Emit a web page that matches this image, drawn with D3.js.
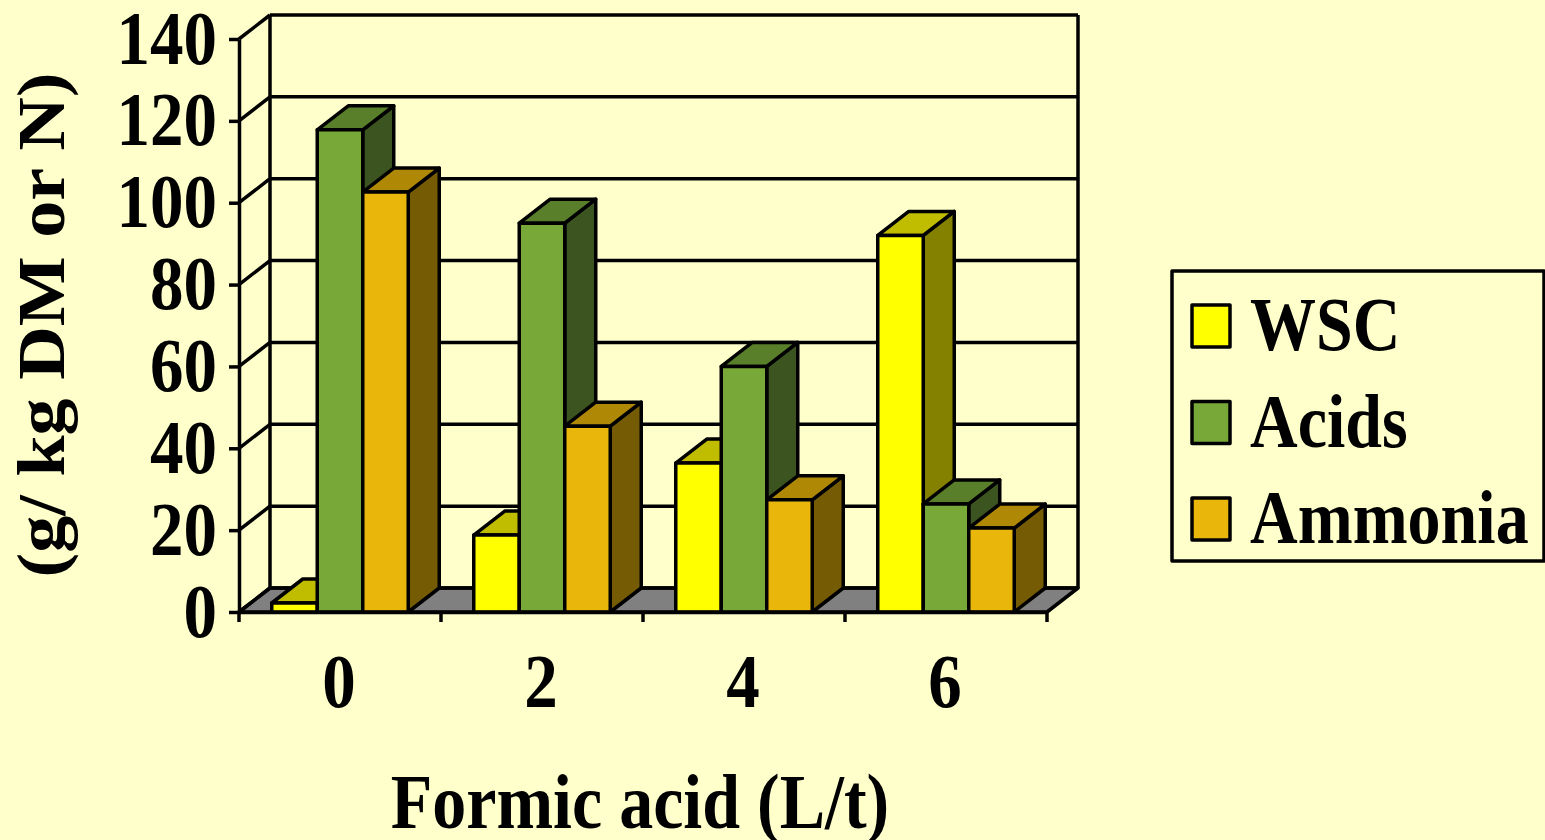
<!DOCTYPE html>
<html>
<head>
<meta charset="utf-8">
<script src="https://cdn.jsdelivr.net/npm/d3@7"></script>
<style>
  html, body { margin: 0; padding: 0; background: #ffffcc; overflow: hidden; }
  text { font-family: "Liberation Serif", serif; font-weight: 700; fill: #000; }
</style>
</head>
<body>
<svg id="chart" width="1545" height="840"></svg>
<script>
const categories = ["0", "2", "4", "6"];
const seriesNames = ["WSC", "Acids", "Ammonia"];
const wsc = [2.2, 18.8, 36.4, 92];
const acids = [117.8, 95, 60, 26.4];
const ammonia = [102.6, 45.4, 27.4, 20.5];
const yTicks = [0, 20, 40, 60, 80, 100, 120, 140];

const seriesValues = [wsc, acids, ammonia];
const faces = [
  { front: "#ffff00", top: "#c0bc00", side: "#848000" },
  { front: "#78a838", top: "#5a7f2a", side: "#3c5420" },
  { front: "#e9b60c", top: "#af8906", side: "#755c04" },
];

const svg = d3.select("#chart");
const LINE = 3.5;
const DX = 31; // depth of the 3d box
const DY = 24;
const STRETCH = 1.14; // the source text is taller than it is wide

const x = d3.scaleBand().domain(categories).range([239, 1047]);
const xInner = d3
  .scaleBand()
  .domain(seriesNames)
  .range([0, x.bandwidth()])
  .paddingInner(0)
  .paddingOuter(0.72);
const y = d3.scaleLinear().domain([0, 140]).range([612, 39]);

const outline = (sel) =>
  sel.attr("stroke", "#000").attr("stroke-width", LINE).attr("stroke-linejoin", "round");
const poly = (pts) => pts.map((p) => p.join(",")).join(" ");

// floor
const [x0, x1] = x.range();
outline(
  svg.append("polygon").attr("fill", "#808080").attr("points", poly([
    [x0, y(0)], [x1, y(0)], [x1 + DX, y(0) - DY], [x0 + DX, y(0) - DY],
  ]))
);

// back wall and its gridlines
const wall = svg.append("g");
wall.selectAll(".grid")
  .data(yTicks)
  .join("line")
  .attr("x1", x0 + DX)
  .attr("x2", x1 + DX)
  .attr("y1", (d) => y(d) - DY)
  .attr("y2", (d) => y(d) - DY)
  .call(outline);
wall.selectAll(".side")
  .data(yTicks)
  .join("line")
  .attr("x1", x0)
  .attr("x2", x0 + DX)
  .attr("y1", (d) => y(d))
  .attr("y2", (d) => y(d) - DY)
  .call(outline);
[x0 + DX, x1 + DX].forEach((vx) => {
  wall.append("line")
    .attr("x1", vx).attr("x2", vx)
    .attr("y1", y(140) - DY).attr("y2", y(0) - DY)
    .call(outline);
});

// bars, painted left to right so later boxes cover earlier sides
const groups = svg.selectAll(".group")
  .data(categories)
  .join("g")
  .attr("transform", (d) => `translate(${x(d)},0)`);

groups.each(function (cat, ci) {
  const g = d3.select(this);
  seriesNames.forEach((name, si) => {
    const v = seriesValues[si][ci];
    const l = xInner(name);
    const r = l + xInner.bandwidth();
    const t = y(v);
    const b = y(0);
    outline(g.append("polygon").attr("fill", faces[si].side).attr("points", poly([
      [r, t], [r + DX, t - DY], [r + DX, b - DY], [r, b],
    ])));
    outline(g.append("polygon").attr("fill", faces[si].top).attr("points", poly([
      [l, t], [l + DX, t - DY], [r + DX, t - DY], [r, t],
    ])));
    outline(g.append("rect").attr("fill", faces[si].front)
      .attr("x", l).attr("y", t).attr("width", r - l).attr("height", b - t));
  });
});

// axes
const yAxisG = svg.append("g")
  .attr("transform", `translate(${x0},0)`)
  .call(d3.axisLeft(y).tickValues(yTicks).tickSize(10).tickSizeOuter(0));
yAxisG.selectAll("path, line").attr("stroke", "#000").attr("stroke-width", LINE);
yAxisG.selectAll("text")
  .attr("x", null).attr("dy", null)
  .attr("text-anchor", "end")
  .attr("font-size", 67)
  .attr("font-family", null)
  .attr("transform", `translate(-22,24) scale(1,${STRETCH})`);

const xAxisG = svg.append("g")
  .attr("transform", `translate(0,${y(0)})`)
  .call(d3.axisBottom(x).tickSize(0).tickSizeOuter(0));
xAxisG.selectAll("path").attr("stroke", "#000").attr("stroke-width", LINE);
xAxisG.selectAll(".tick line").remove();
xAxisG.selectAll("text")
  .attr("y", null).attr("dy", null)
  .attr("font-size", 67)
  .attr("transform", `translate(-1,95) scale(1,${STRETCH})`);
// group ticks sit on the band edges
svg.append("g").selectAll("line")
  .data(categories.concat("end"))
  .join("line")
  .attr("x1", (d, i) => x0 + i * x.step())
  .attr("x2", (d, i) => x0 + i * x.step())
  .attr("y1", y(0))
  .attr("y2", y(0) + 10)
  .call(outline);

// titles
svg.append("text")
  .attr("text-anchor", "middle")
  .attr("font-size", 68)
  .attr("transform", `translate(640,828) scale(1,${STRETCH})`)
  .text("Formic acid (L/t)");
svg.append("text")
  .attr("text-anchor", "middle")
  .attr("font-size", 68)
  .attr("transform", `translate(64,325) rotate(-90) scale(1.09,1)`)
  .text("(g/ kg DM or N)");

// legend
const legend = svg.append("g");
outline(legend.append("rect")
  .attr("x", 1172).attr("y", 271).attr("width", 372).attr("height", 290)
  .attr("fill", "#ffffcc"));
const legendY = d3.scalePoint().domain(seriesNames).range([326, 519]);
seriesNames.forEach((name, i) => {
  outline(legend.append("rect")
    .attr("x", 1192).attr("y", legendY(name) - 21)
    .attr("width", 38).attr("height", 42)
    .attr("fill", faces[i].front));
  legend.append("text")
    .attr("font-size", 66)
    .attr("transform", `translate(1250,${legendY(name) + 24}) scale(1,${STRETCH})`)
    .text(name);
});
</script>
</body>
</html>
